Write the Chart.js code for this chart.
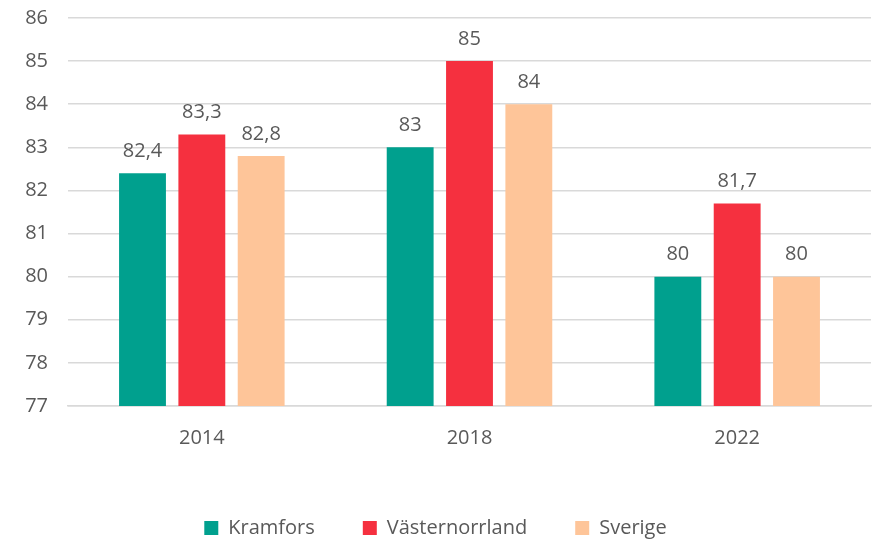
<!DOCTYPE html>
<html>
<head>
<meta charset="utf-8">
<script src="https://cdn.jsdelivr.net/npm/chart.js@4.4.1/dist/chart.umd.min.js"></script>
<style>
  html, body { margin: 0; padding: 0; background: #fff; }
  #wrap { width: 879px; height: 540px; }
</style>
</head>
<body>
<div id="wrap"><canvas id="chart"></canvas></div>
<script>
// Datos del gráfico
const years = ['2014', '2018', '2022'];
const kramfors = [82.4, 83, 80];
const vasternorrland = [83.3, 85, 81.7];
const sverige = [82.8, 84, 80];

const textColor = '#595959';
const fontFamily = "'Open Sans', sans-serif";
const fontSize = 20;

// Etiquetas de valor encima de las barras (coma decimal)
const valueLabels = {
    id: 'valueLabels',
    afterDatasetsDraw(chart) {
        const ctx = chart.ctx;
        ctx.save();
        ctx.fillStyle = textColor;
        ctx.font = fontSize + 'px ' + fontFamily;
        ctx.textAlign = 'center';
        ctx.textBaseline = 'bottom';
        chart.data.datasets.forEach((ds, i) => {
            chart.getDatasetMeta(i).data.forEach((bar, j) => {
                const txt = String(ds.data[j]).replace('.', ',');
                ctx.fillText(txt, bar.x, bar.y - 12);
            });
        });
        ctx.restore();
    }
};

new Chart(document.getElementById('chart'), {
    type: 'bar',
    data: {
        labels: years,
        datasets: [
            { label: 'Kramfors', data: kramfors, backgroundColor: '#00A08E' },
            { label: 'Västernorrland', data: vasternorrland, backgroundColor: '#F5303F' },
            { label: 'Sverige', data: sverige, backgroundColor: '#FEC599' }
        ]
    },
    options: {
        responsive: true,
        maintainAspectRatio: false,
        animation: false,
        layout: { padding: { top: 18, right: 8, left: 0, bottom: -8 } },
        datasets: {
            bar: { categoryPercentage: 0.665, barPercentage: 0.79 }
        },
        plugins: {
            legend: {
                position: 'bottom',
                labels: {
                    color: textColor,
                    font: { family: fontFamily, size: fontSize },
                    boxWidth: 14,
                    boxHeight: 14,
                    padding: 48
                }
            },
            tooltip: { enabled: false }
        },
        scales: {
            y: {
                min: 77,
                max: 86,
                ticks: { stepSize: 1, color: textColor, font: { family: fontFamily, size: fontSize }, padding: 20 },
                grid: { color: '#D9D9D9', lineWidth: 1.5, drawTicks: false },
                border: { display: false },
                afterFit(scale) { scale.width = 68; scale.paddingTop = 0; }
            },
            x: {
                ticks: { color: textColor, font: { family: fontFamily, size: fontSize }, padding: 20 },
                grid: { display: false, drawTicks: false },
                border: { color: '#D9D9D9', width: 1.5 },
                afterFit(scale) { scale.height = 64; }
            }
        }
    },
    plugins: [valueLabels]
});
</script>
</body>
</html>
